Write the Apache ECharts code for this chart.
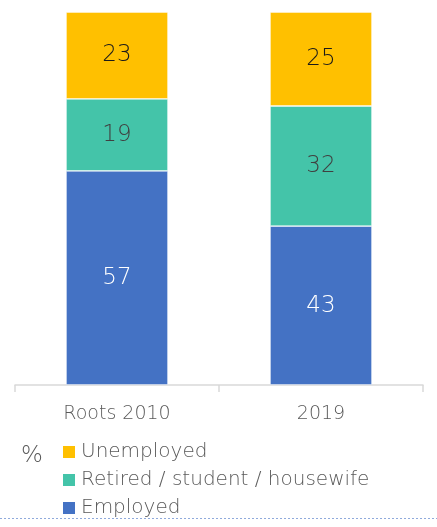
<!DOCTYPE html>
<html><head><meta charset="utf-8">
<script src="https://cdn.jsdelivr.net/npm/echarts@6/dist/echarts.min.js"></script>
<style>html,body{margin:0;padding:0;background:#fff}#c{width:437px;height:527px}</style>
</head><body><div id="c"></div>
<script>
const categories = ['Roots 2010', '2019'];
// segment shares (labels shown rounded)
const employed = [57.4, 42.6];
const retired = [19.3, 32.2];
const unemployed = [23.3, 25.2];
const seriesNames = ['Employed', 'Retired / student / housewife', 'Unemployed'];
const legendOrder = ['Unemployed', 'Retired / student / housewife', 'Employed'];

const font = '"DejaVu Sans", sans-serif';
const chart = echarts.init(document.getElementById('c'));
function mk(name, data, color, labelColor) {
  return {
    name, type: 'bar', stack: 'a', data, barWidth: '50%',
    itemStyle: { color, borderColor: 'rgba(255,255,255,0.6)', borderWidth: 0.8 },
    label: { show: true, position: 'inside', color: labelColor, fontSize: 23, fontWeight: 200, fontFamily: font,
      formatter: p => Math.round(p.value) },
    emphasis: { disabled: true }
  };
}
chart.setOption({
  animation: false,
  grid: { left: 15, right: 14, top: 12, bottom: 142 },
  xAxis: {
    type: 'category', data: categories,
    axisLine: { lineStyle: { color: '#d9d9d9', width: 1.5 } },
    axisTick: { show: true, length: 7, lineStyle: { color: '#d9d9d9', width: 1.5 } },
    axisLabel: { color: '#595959', fontSize: 19, fontWeight: 200, fontFamily: font, margin: 20 }
  },
  yAxis: { type: 'value', min: 0, max: 100, show: false, splitLine: { show: false } },
  legend: {
    data: legendOrder,
    orient: 'vertical', left: 63, top: 442, itemWidth: 12, itemHeight: 12, itemGap: 8,
    icon: 'rect', padding: 0,
    itemStyle: { borderWidth: 0 },
    textStyle: { color: '#595959', fontSize: 20, fontWeight: 200, fontFamily: font, padding: [0, 0, 0, 1] }
  },
  graphic: [
    { type: 'text', left: 21, top: 445, style: { text: '%', fill: '#595959', font: '200 23px ' + font } },
    { type: 'line', shape: { x1: 0, y1: 518.5, x2: 437, y2: 518.5 },
      style: { stroke: '#8faadc', lineWidth: 1, lineDash: [2, 2] } }
  ],
  series: [
    mk(seriesNames[0], employed, '#4472C4', '#ffffff'),
    mk(seriesNames[1], retired, '#44C4A9', '#404040'),
    mk(seriesNames[2], unemployed, '#FFC000', '#1a1a1a')
  ]
});
</script></body></html>
